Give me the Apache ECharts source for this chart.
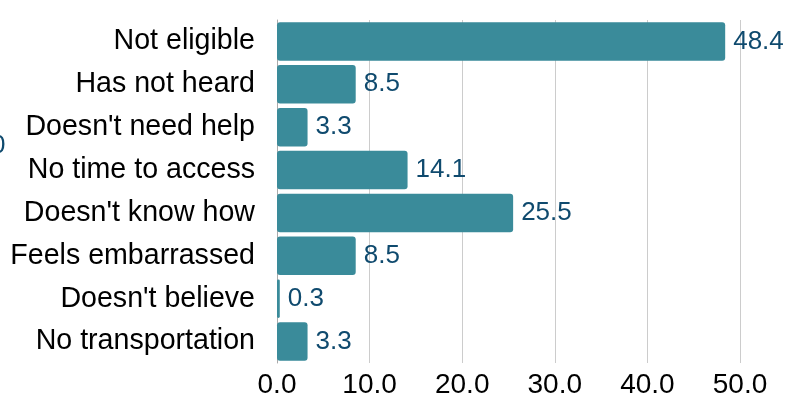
<!DOCTYPE html>
<html><head><meta charset="utf-8">
<script src="https://cdn.jsdelivr.net/npm/echarts@6/dist/echarts.min.js"></script>
<style>html,body{margin:0;padding:0;background:#fff}#c{width:789px;height:402px}</style>
</head><body><div id="c"></div>
<script>
const categories = ["Not eligible","Has not heard","Doesn't need help","No time to access","Doesn't know how","Feels embarrassed","Doesn't believe","No transportation"];
const values = [48.4, 8.5, 3.3, 14.1, 25.5, 8.5, 0.3, 3.3];
const xTicks = [0, 10, 20, 30, 40, 50];

const chart = echarts.init(document.getElementById('c'));
chart.setOption({
  animation: false,
  grid: {left: 277, right: 49, top: 20, bottom: 39, containLabel: false},
  xAxis: {
    type: 'value', min: xTicks[0], max: xTicks[xTicks.length-1], interval: 10,
    axisLine: {show: false}, axisTick: {show: false},
    splitLine: {show: true, lineStyle: {color: '#cccccc', width: 1}},
    axisLabel: {color: '#000', fontSize: 28, fontFamily: 'Liberation Sans, Arial', margin: 8,
      formatter: v => v.toFixed(1)}
  },
  yAxis: {
    type: 'category', data: categories, inverse: true,
    axisLine: {show: true, lineStyle: {color: '#aaaaaa'}}, axisTick: {show: false},
    axisLabel: {color: '#000', fontSize: 28.6, fontFamily: 'Liberation Sans, Arial', margin: 22}
  },
  series: [{
    type: 'bar', data: values, barCategoryGap: '10%',
    itemStyle: {color: '#3a8b9a', borderRadius: 3},
    label: {show: true, position: 'right', distance: 8, color: '#0f4a6e', fontSize: 26,
      fontFamily: 'Liberation Sans, Arial', formatter: p => p.value.toFixed(1)}
  }],
  graphic: [{type: 'text', left: -9, top: 133, style: {text: '0', fill: '#0f4a6e', font: '26px "Liberation Sans", Arial'}}]
});
</script></body></html>
